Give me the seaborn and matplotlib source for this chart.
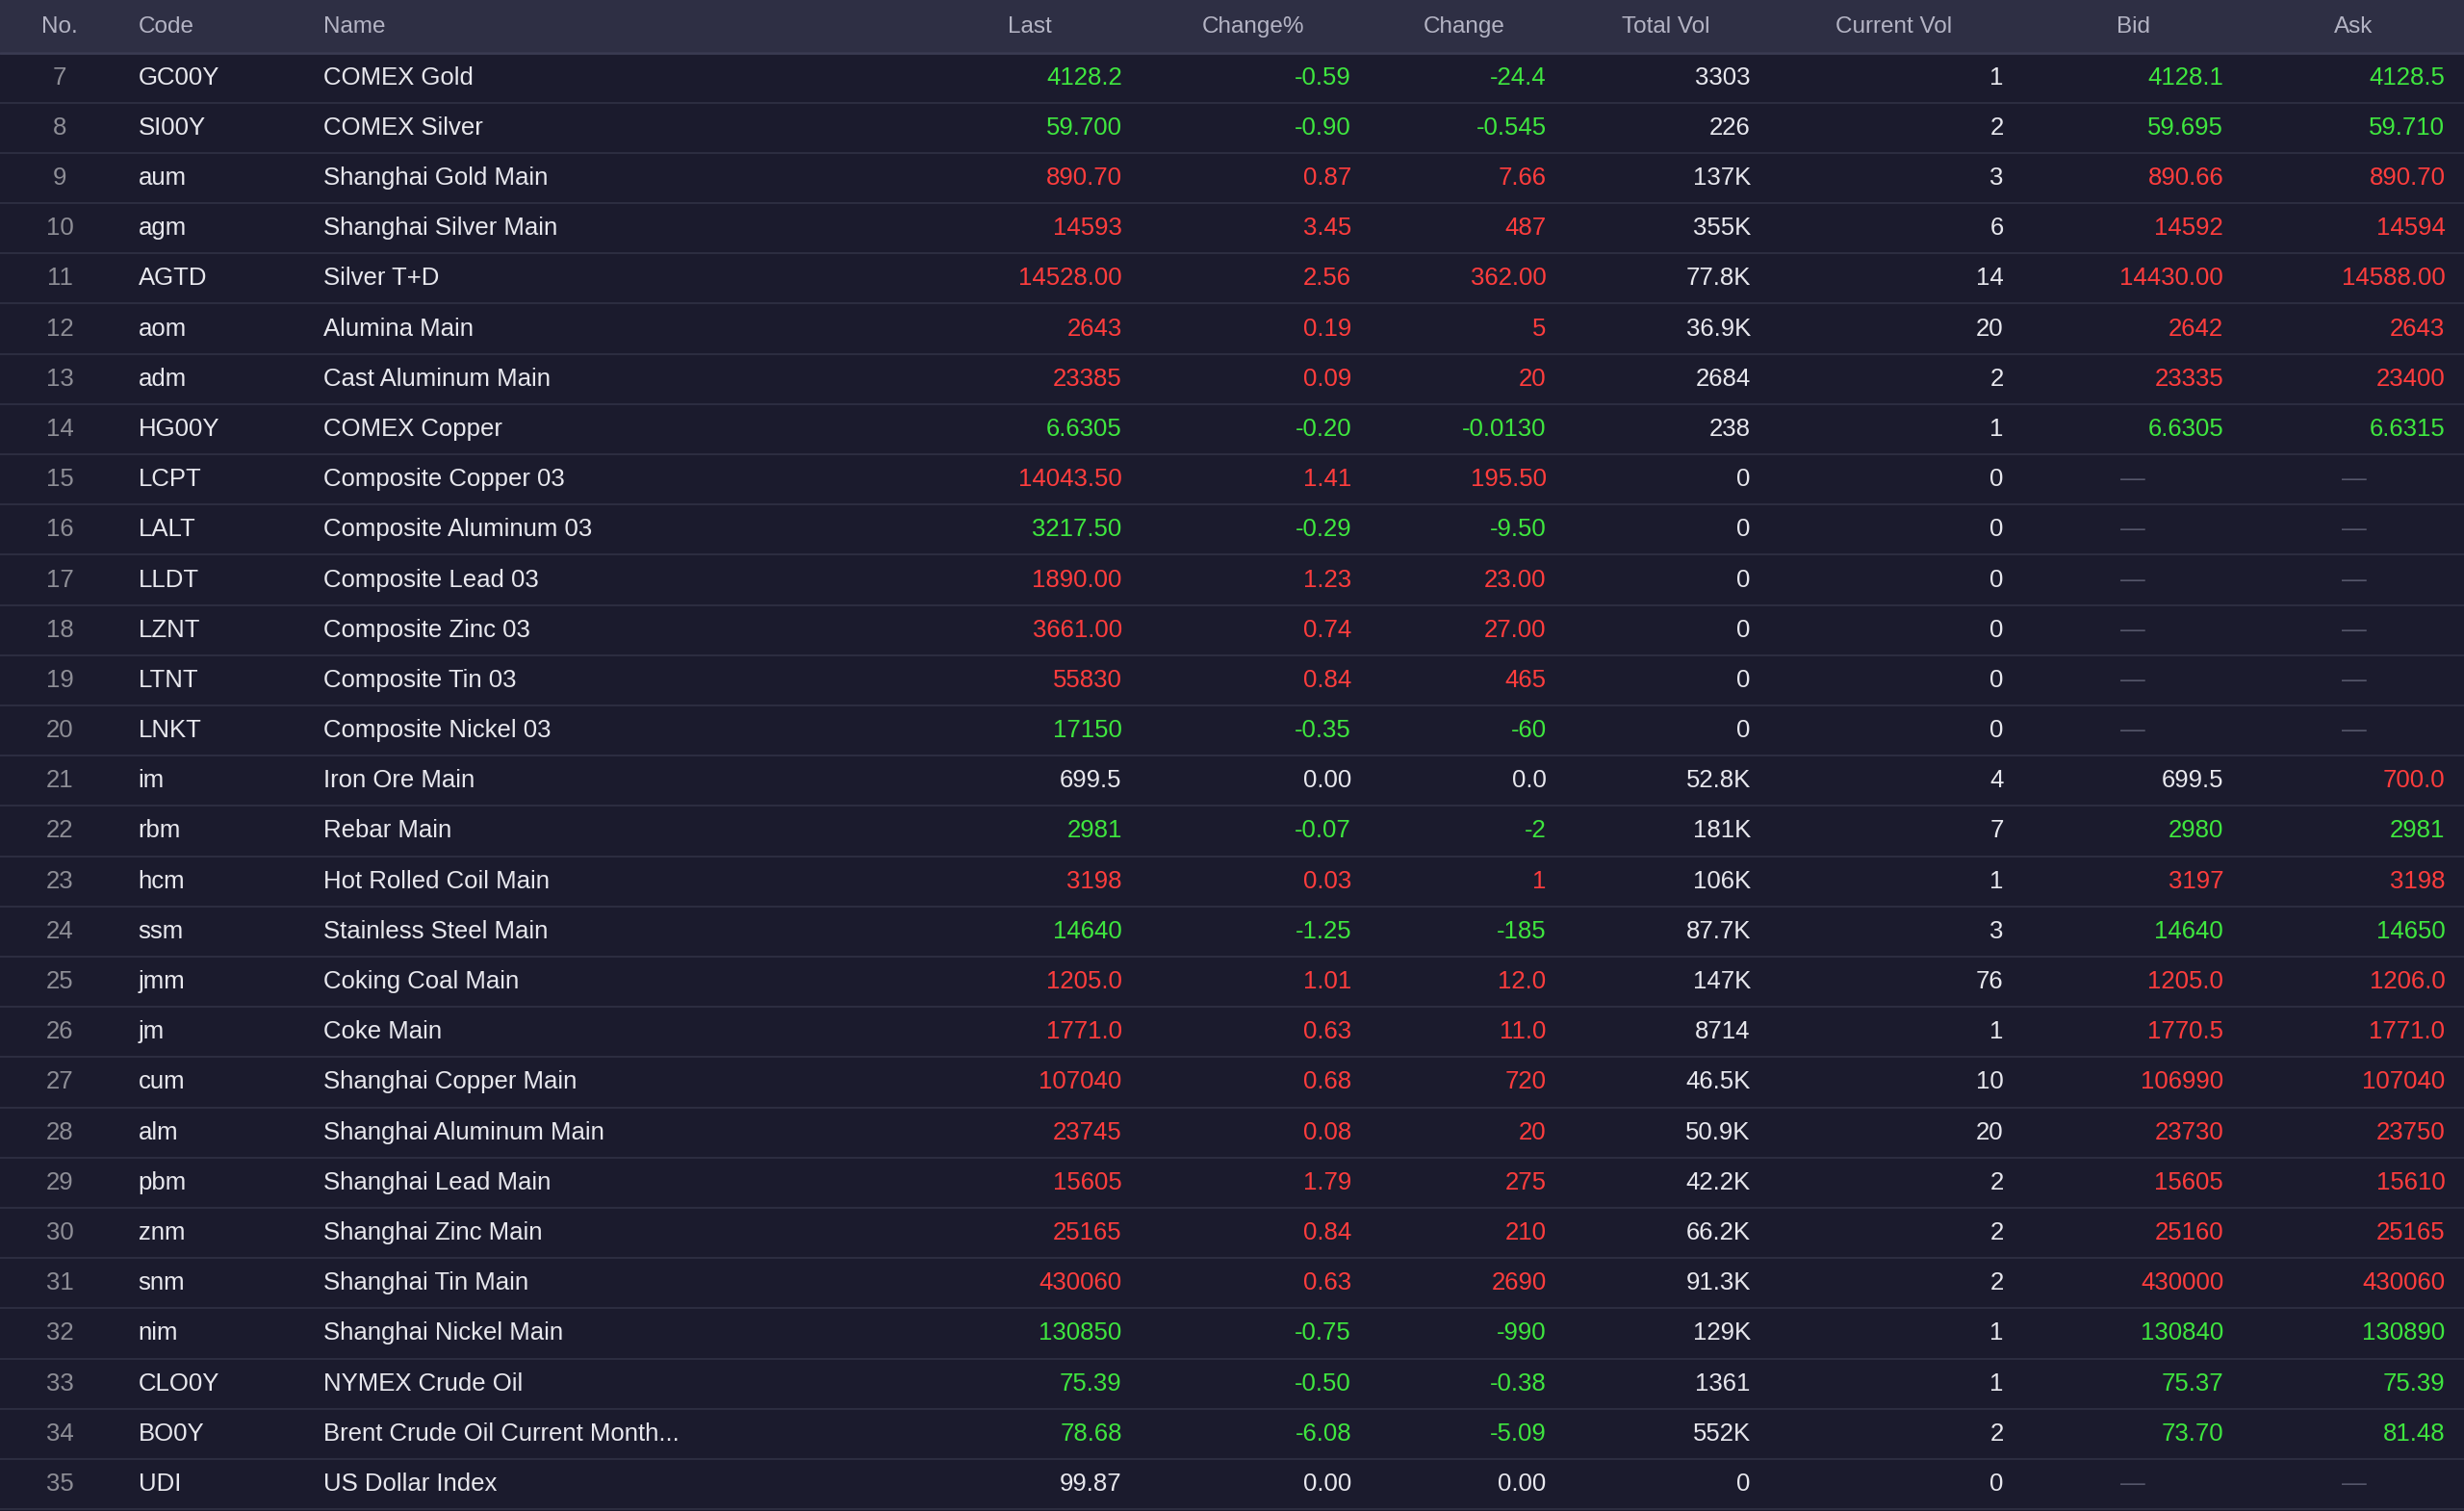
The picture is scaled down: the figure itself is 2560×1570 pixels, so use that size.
import matplotlib.pyplot as plt
import seaborn as sns

sns.set_theme(style="dark")
plt.rcParams['font.family'] = ['Liberation Sans Narrow', 'Liberation Sans', 'DejaVu Sans']

# data
nos = list(range(7, 36))
codes = ['GC00Y', 'SI00Y', 'aum', 'agm', 'AGTD', 'aom', 'adm', 'HG00Y', 'LCPT', 'LALT', 'LLDT', 'LZNT',
         'LTNT', 'LNKT', 'im', 'rbm', 'hcm', 'ssm', 'jmm', 'jm', 'cum', 'alm', 'pbm', 'znm', 'snm', 'nim',
         'CLO0Y', 'BO0Y', 'UDI']
names = ['COMEX Gold', 'COMEX Silver', 'Shanghai Gold Main', 'Shanghai Silver Main', 'Silver T+D',
         'Alumina Main', 'Cast Aluminum Main', 'COMEX Copper', 'Composite Copper 03', 'Composite Aluminum 03',
         'Composite Lead 03', 'Composite Zinc 03', 'Composite Tin 03', 'Composite Nickel 03', 'Iron Ore Main',
         'Rebar Main', 'Hot Rolled Coil Main', 'Stainless Steel Main', 'Coking Coal Main', 'Coke Main',
         'Shanghai Copper Main', 'Shanghai Aluminum Main', 'Shanghai Lead Main', 'Shanghai Zinc Main',
         'Shanghai Tin Main', 'Shanghai Nickel Main', 'NYMEX Crude Oil', 'Brent Crude Oil Current Month...',
         'US Dollar Index']
last = ['4128.2', '59.700', '890.70', '14593', '14528.00', '2643', '23385', '6.6305', '14043.50', '3217.50',
        '1890.00', '3661.00', '55830', '17150', '699.5', '2981', '3198', '14640', '1205.0', '1771.0',
        '107040', '23745', '15605', '25165', '430060', '130850', '75.39', '78.68', '99.87']
change_pct = ['-0.59', '-0.90', '0.87', '3.45', '2.56', '0.19', '0.09', '-0.20', '1.41', '-0.29', '1.23',
              '0.74', '0.84', '-0.35', '0.00', '-0.07', '0.03', '-1.25', '1.01', '0.63', '0.68', '0.08',
              '1.79', '0.84', '0.63', '-0.75', '-0.50', '-6.08', '0.00']
change = ['-24.4', '-0.545', '7.66', '487', '362.00', '5', '20', '-0.0130', '195.50', '-9.50', '23.00',
          '27.00', '465', '-60', '0.0', '-2', '1', '-185', '12.0', '11.0', '720', '20', '275', '210',
          '2690', '-990', '-0.38', '-5.09', '0.00']
total_vol = ['3303', '226', '137K', '355K', '77.8K', '36.9K', '2684', '238', '0', '0', '0', '0', '0', '0',
             '52.8K', '181K', '106K', '87.7K', '147K', '8714', '46.5K', '50.9K', '42.2K', '66.2K', '91.3K',
             '129K', '1361', '552K', '0']
current_vol = ['1', '2', '3', '6', '14', '20', '2', '1', '0', '0', '0', '0', '0', '0', '4', '7', '1', '3',
               '76', '1', '10', '20', '2', '2', '2', '1', '1', '2', '0']
bid = ['4128.1', '59.695', '890.66', '14592', '14430.00', '2642', '23335', '6.6305', None, None, None, None,
       None, None, '699.5', '2980', '3197', '14640', '1205.0', '1770.5', '106990', '23730', '15605', '25160',
       '430000', '130840', '75.37', '73.70', None]
ask = ['4128.5', '59.710', '890.70', '14594', '14588.00', '2643', '23400', '6.6315', None, None, None, None,
       None, None, '700.0', '2981', '3198', '14650', '1206.0', '1771.0', '107040', '23750', '15610', '25165',
       '430060', '130890', '75.39', '81.48', None]

headers = ['No.', 'Code', 'Name', 'Last', 'Change%', 'Change', 'Total Vol', 'Current Vol', 'Bid', 'Ask']
header_x = [38, 88, 206, 641, 765, 906, 1032, 1168, 1347, 1485]

GREEN, RED, WHITE, GREY = '#3fe63f', '#ff3d3d', '#e8e8ee', '#8e8e96'
BG, HEAD_BG, LINE = '#1b1b2d', '#2e2f44', '#2c2d40'


def col(v):
    if v > 0:
        return RED
    if v < 0:
        return GREEN
    return WHITE


W, H = 1568, 955
fig = plt.figure(figsize=(25.6, 15.7), dpi=100, facecolor=BG)
ax = fig.add_axes([0, 0, 1, 1])
ax.set_facecolor(BG)
ax.set_xlim(0, W)
ax.set_ylim(H, 0)
ax.axis('off')

ax.axhspan(0, 33, color=HEAD_BG, lw=0)
ax.axhline(33.5, color='#3a3b52', lw=2)
fs = 18.5
for hx, h in zip(header_x, headers):
    ax.text(hx, 17, h, ha='center' if h == 'No.' else 'left', va='center', fontsize=17.5, color='#b4b4c4')

row_h = 31.75
for i in range(len(nos)):
    y = 49 + i * row_h
    ax.axhline(y + row_h / 2, color=LINE, lw=1.5)
    c = float(change[i])
    main_c = col(c)
    ax.text(38, y, str(nos[i]), ha='center', va='center', fontsize=fs, color=GREY)
    ax.text(88, y, codes[i], ha='left', va='center', fontsize=fs, color=WHITE)
    ax.text(206, y, names[i], ha='left', va='center', fontsize=fs, color=WHITE)
    ax.text(714, y, last[i], ha='right', va='center', fontsize=fs, color=main_c)
    ax.text(860, y, change_pct[i], ha='right', va='center', fontsize=fs, color=main_c)
    ax.text(984, y, change[i], ha='right', va='center', fontsize=fs, color=main_c)
    ax.text(1114, y, total_vol[i], ha='right', va='center', fontsize=fs, color=WHITE)
    ax.text(1275, y, current_vol[i], ha='right', va='center', fontsize=fs, color=WHITE)
    for xr, v in ((1415, bid[i]), (1556, ask[i])):
        if v is None:
            ax.text(xr - 58, y, '—', ha='center', va='center', fontsize=fs, color='#55566a')
        else:
            vc = main_c if c != 0 else col(round(float(v) - float(last[i]), 6))
            ax.text(xr, y, v, ha='right', va='center', fontsize=fs, color=vc)

fig.savefig('out.png', dpi=100, facecolor=BG)
